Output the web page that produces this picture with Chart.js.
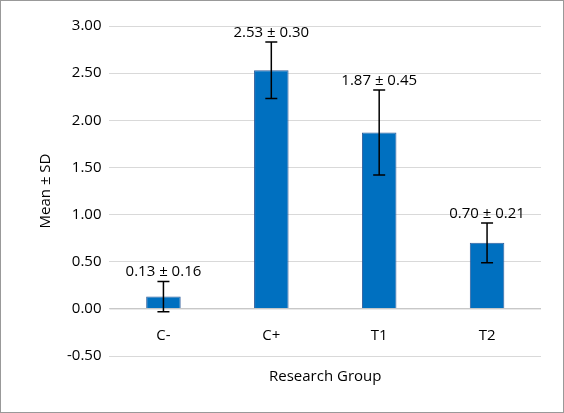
<!DOCTYPE html>
<html><head><script src="https://cdn.jsdelivr.net/npm/chart.js@4"></script>
<style>html,body{margin:0;padding:0;background:#fff}#w{width:562px;height:411px;border:1px solid #999;position:relative}</style></head>
<body><div id="w"><canvas id="c"></canvas></div>
<script>
const categories=["C-","C+","T1","T2"];
const means=[0.13,2.53,1.87,0.70];
const sds=[0.16,0.30,0.45,0.21];
const ff="'Open Sans', sans-serif";
const errPlugin={id:'err',afterDatasetsDraw(ch){
 const ctx=ch.ctx,y=ch.scales.y,x=ch.scales.x,meta=ch.getDatasetMeta(0);
 ctx.save();
 // zero axis line and category labels under it
 const z=y.getPixelForValue(0);
 ctx.strokeStyle='#bfbfbf';ctx.lineWidth=1;ctx.beginPath();ctx.moveTo(x.left,z);ctx.lineTo(x.right,z);ctx.stroke();
 ctx.fillStyle='#000';ctx.font="15px "+ff;ctx.textAlign='center';ctx.textBaseline='middle';
 categories.forEach((c,i)=>ctx.fillText(c,x.getPixelForValue(i),z+27));
 ctx.strokeStyle='#000';ctx.lineWidth=1.5;ctx.textBaseline='bottom';
 meta.data.forEach((b,i)=>{
  const xx=b.x,t=y.getPixelForValue(means[i]+sds[i]),bo=y.getPixelForValue(means[i]-sds[i]);
  ctx.beginPath();ctx.moveTo(xx,t);ctx.lineTo(xx,bo);
  ctx.moveTo(xx-6,t);ctx.lineTo(xx+6,t);ctx.moveTo(xx-6,bo);ctx.lineTo(xx+6,bo);ctx.stroke();
  ctx.fillText(means[i].toFixed(2)+" \u00b1 "+sds[i].toFixed(2),xx,t-2);
 });ctx.restore();}};
new Chart(document.getElementById('c'),{type:'bar',
 data:{labels:categories,datasets:[{data:means,backgroundColor:'#0070C0',borderColor:'#2E5C9A',borderWidth:1,barPercentage:0.32,categoryPercentage:1}]},
 options:{responsive:true,maintainAspectRatio:false,animation:false,
  layout:{padding:{top:25,right:22,left:32,bottom:22}},
  plugins:{legend:{display:false},tooltip:{enabled:false}},
  scales:{
   x:{grid:{display:false},border:{display:false},ticks:{display:false},
      title:{display:true,text:'Research Group',color:'#000',font:{size:15,family:ff},padding:{top:4}}},
   y:{min:-0.5,max:3,ticks:{stepSize:0.5,color:'#000',font:{size:15,family:ff},padding:8,callback:v=>v.toFixed(2)},
      grid:{color:'#d9d9d9',drawTicks:false},border:{display:false},
      title:{display:true,text:'Mean \u00b1 SD',color:'#000',font:{size:15,family:ff}}}
  }},plugins:[errPlugin]});
</script></body></html>
